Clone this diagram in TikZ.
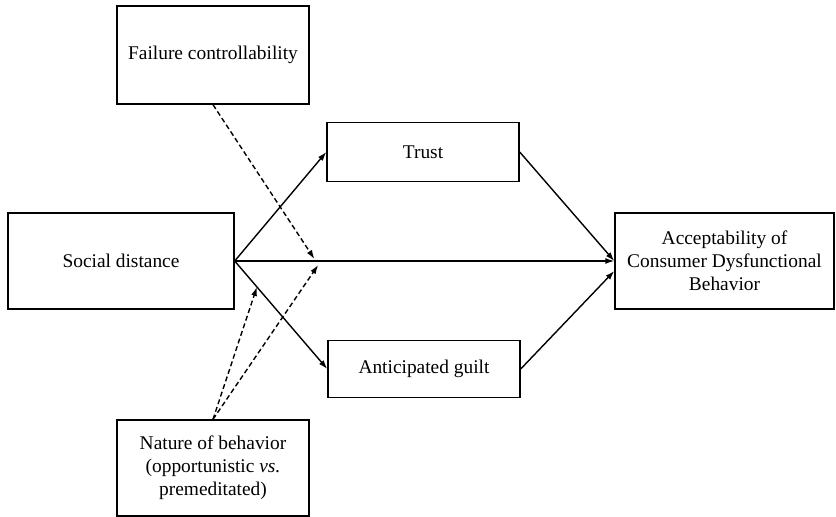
\documentclass[tikz,border=0pt]{standalone}
\usepackage{fontspec}
\setmainfont{Liberation Serif}
\usepackage{tikz}
\usetikzlibrary{arrows.meta,positioning,calc}

\tikzset{
    varbox/.style={draw, line width=1.4pt, align=center, inner sep=0pt,
        font=\fontsize{19.4}{22.8}\selectfont},
    path/.style={line width=1.4pt, -{Latex[length=9pt,width=6pt]}},
    moder/.style={path, dash pattern=on 5pt off 3pt}
}

\begin{document}
\begin{tikzpicture}[x=1pt,y=-1pt]
    \useasboundingbox (0,0) rectangle (836,517);
    % variables
    \node[varbox, minimum width=192pt, minimum height=98pt] (fail) at (213,55) {Failure controllability};
    \node[varbox, minimum width=226pt, minimum height=96pt] (sd) at (121,261) {Social distance};
    \node[varbox, minimum width=192pt, minimum height=59pt] (trust) at (423,152) {Trust};
    \node[varbox, minimum width=192pt, minimum height=57pt] (guilt) at (424,369) {Anticipated guilt};
    \node[varbox, minimum width=219pt, minimum height=96pt] (accept) at (724.5,261)
        {Acceptability of\\Consumer Dysfunctional\\Behavior};
    \node[varbox, minimum width=192pt, minimum height=96pt] (nature) at (213,468)
        {Nature of behavior\\(opportunistic \textit{vs.}\\premeditated)};

    % direct and mediated paths
    \foreach \t in {trust,accept,guilt}
        \draw[path] (sd.east) -- (\t.west);
    \draw[path] (trust.east) -- (accept.west);
    \draw[path] (guilt.east) -- ($(accept.west)+(0,10)$);

    % moderators
    \coordinate (mfail) at ($(sd.east)!0.21!(accept.west)+(0,-2)$);
    \coordinate (mnat1) at ($(sd.east)!0.22!(accept.west)+(0,4)$);
    \coordinate (mnat2) at ($(sd.east)!0.24!(guilt.west)$);
    \draw[moder] (fail.south) -- (mfail);
    \draw[moder] (nature.north) -- (mnat1);
    \draw[moder] (nature.north) -- (mnat2);
\end{tikzpicture}
\end{document}
